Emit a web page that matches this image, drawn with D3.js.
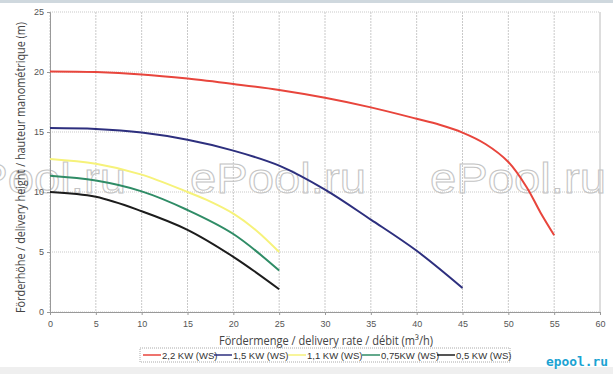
<!DOCTYPE html>
<html lang="de">
<head>
<meta charset="UTF-8">
<title>Pumpenkennlinien</title>
<script src="https://d3js.org/d3.v7.min.js"></script>
<style>
  body { margin: 0; background: #fff; }
  svg { display: block; }
  .tick text { font-family: "Liberation Sans", Arial, sans-serif; font-size: 9px; fill: #555; }
</style>
</head>
<body>
<svg width="613" height="374"></svg>
<script>
// pump curves: [flow m3/h, head m]
var series = ["2,2 KW (WS)", "1,5 KW (WS)", "1,1 KW (WS)", "0,75KW (WS)", "0,5 KW (WS)"];
var colors = ["#e8453c", "#2d2f7e", "#f6f27a", "#2f8c66", "#1c1c1c"];

var kw22 = [[0,20.05],[5,20.0],[10,19.8],[15,19.45],[20,19.0],[25,18.5],[30,17.85],[35,17.05],[40,16.1],[42.5,15.6],[45,14.95],[47.5,14.0],[50,12.5],[52,10.4],[53.5,8.3],[55,6.4]];
var kw15 = [[0,15.33],[5,15.25],[10,14.95],[15,14.35],[20,13.45],[25,12.2],[30,10.2],[35,7.7],[40,5.1],[45,2.0]];
var kw11 = [[0,12.75],[5,12.35],[10,11.45],[15,10.0],[17.5,9.2],[20,8.2],[22.5,6.8],[25,5.0]];
var kw075 = [[0,11.35],[5,10.95],[10,10.05],[15,8.5],[20,6.5],[25,3.45]];
var kw05 = [[0,10.0],[5,9.6],[10,8.4],[15,6.85],[20,4.6],[25,1.9]];
var allData = [kw22, kw15, kw11, kw075, kw05];

var xTicks = [0,5,10,15,20,25,30,35,40,45,50,55,60];
var yTicks = [0,5,10,15,20,25];

function draw() {
    var svg = d3.select("svg");
    var pLeft = 50, pRight = 600, pTop = 12, pBottom = 312;

    var x = d3.scaleLinear().domain([0, 60]).range([pLeft, pRight]);
    var y = d3.scaleLinear().domain([0, 25]).range([pBottom, pTop]);

    // page bands
    svg.append("rect").attr("x", 0).attr("y", 0).attr("width", 613).attr("height", 3).attr("fill", "#cfd8de");
    svg.append("rect").attr("x", 0).attr("y", 367).attr("width", 613).attr("height", 7).attr("fill", "#efefef");

    // grid
    svg.append("g").selectAll("line").data(xTicks).enter().append("line")
        .attr("x1", d => x(d)).attr("x2", d => x(d))
        .attr("y1", pTop).attr("y2", pBottom)
        .attr("stroke", d => d == 60 ? "#bbb" : "#c9c9c9")
        .attr("stroke-dasharray", d => d == 60 ? null : "2,1");
    svg.append("g").selectAll("line").data(yTicks).enter().append("line")
        .attr("x1", pLeft).attr("x2", pRight)
        .attr("y1", d => y(d)).attr("y2", d => y(d))
        .attr("stroke", "#c9c9c9")
        .attr("stroke-dasharray", "1,1");

    // watermark
    var marks = [-50, 190, 430];
    svg.append("g").selectAll("text").data(marks).enter().append("text")
        .attr("x", d => d).attr("y", 193)
        .attr("font-family", "Liberation Sans, Arial, sans-serif")
        .attr("font-size", 43)
        .attr("textLength", 176)
        .attr("lengthAdjust", "spacingAndGlyphs")
        .attr("fill", "none")
        .attr("stroke", "#c4c4c4")
        .attr("stroke-width", 1)
        .text("ePool.ru");

    // axes
    svg.append("g")
        .attr("transform", "translate(0," + pBottom + ")")
        .call(d3.axisBottom(x).tickValues(xTicks).tickSize(3).tickPadding(6));
    svg.append("g")
        .attr("transform", "translate(" + pLeft + ",0)")
        .call(d3.axisLeft(y).tickValues(yTicks).tickSize(3).tickPadding(3));
    svg.selectAll(".domain").attr("stroke", "#999");
    svg.selectAll(".tick line").attr("stroke", "#999");

    // axis titles
    svg.append("text")
        .attr("x", 219).attr("y", 345)
        .attr("font-family", "Open Sans, sans-serif")
        .attr("font-size", 12)
        .attr("fill", "#444")
        .attr("textLength", 214)
        .attr("lengthAdjust", "spacingAndGlyphs")
        .text("Fördermenge / delivery rate / débit (m³/h)");

    svg.append("text")
        .attr("transform", "translate(25,313)rotate(-90)")
        .attr("font-family", "Open Sans, sans-serif")
        .attr("font-size", 12)
        .attr("fill", "#444")
        .attr("textLength", 291)
        .attr("lengthAdjust", "spacingAndGlyphs")
        .text("Förderhöhe / delivery height / hauteur manométrique (m)");

    // curves
    var line = d3.line()
        .x(d => x(d[0]))
        .y(d => y(d[1]))
        .curve(d3.curveCatmullRom.alpha(0.5));

    svg.append("g").selectAll("path").data(allData).enter().append("path")
        .attr("d", line)
        .attr("fill", "none")
        .attr("stroke", (d, i) => colors[i])
        .attr("stroke-width", 2);

    // legend
    var legX = [143, 214, 288, 362, 437];
    svg.append("rect")
        .attr("x", 140).attr("y", 348).attr("width", 370).attr("height", 14)
        .attr("fill", "#fff").attr("stroke", "#aaa").attr("stroke-dasharray", "1,1");
    var leg = svg.append("g").selectAll("g").data(series).enter().append("g")
        .attr("transform", (d, i) => "translate(" + legX[i] + ",355)");
    leg.append("line")
        .attr("x1", 0).attr("x2", 18)
        .attr("stroke", (d, i) => colors[i])
        .attr("stroke-width", 1.5);
    leg.append("text")
        .attr("x", 19).attr("y", 3.5)
        .attr("font-family", "Liberation Sans, Arial, sans-serif")
        .attr("font-size", 9.5)
        .attr("fill", "#333")
        .text(d => d);

    // site logo
    svg.append("text")
        .attr("x", 546).attr("y", 366)
        .attr("font-family", "DejaVu Sans Mono, monospace")
        .attr("font-size", 13)
        .attr("font-weight", "bold")
        .attr("textLength", 62)
        .attr("lengthAdjust", "spacingAndGlyphs")
        .attr("fill", "#1ba3d2")
        .text("epool.ru");
}

draw();
</script>
</body>
</html>
